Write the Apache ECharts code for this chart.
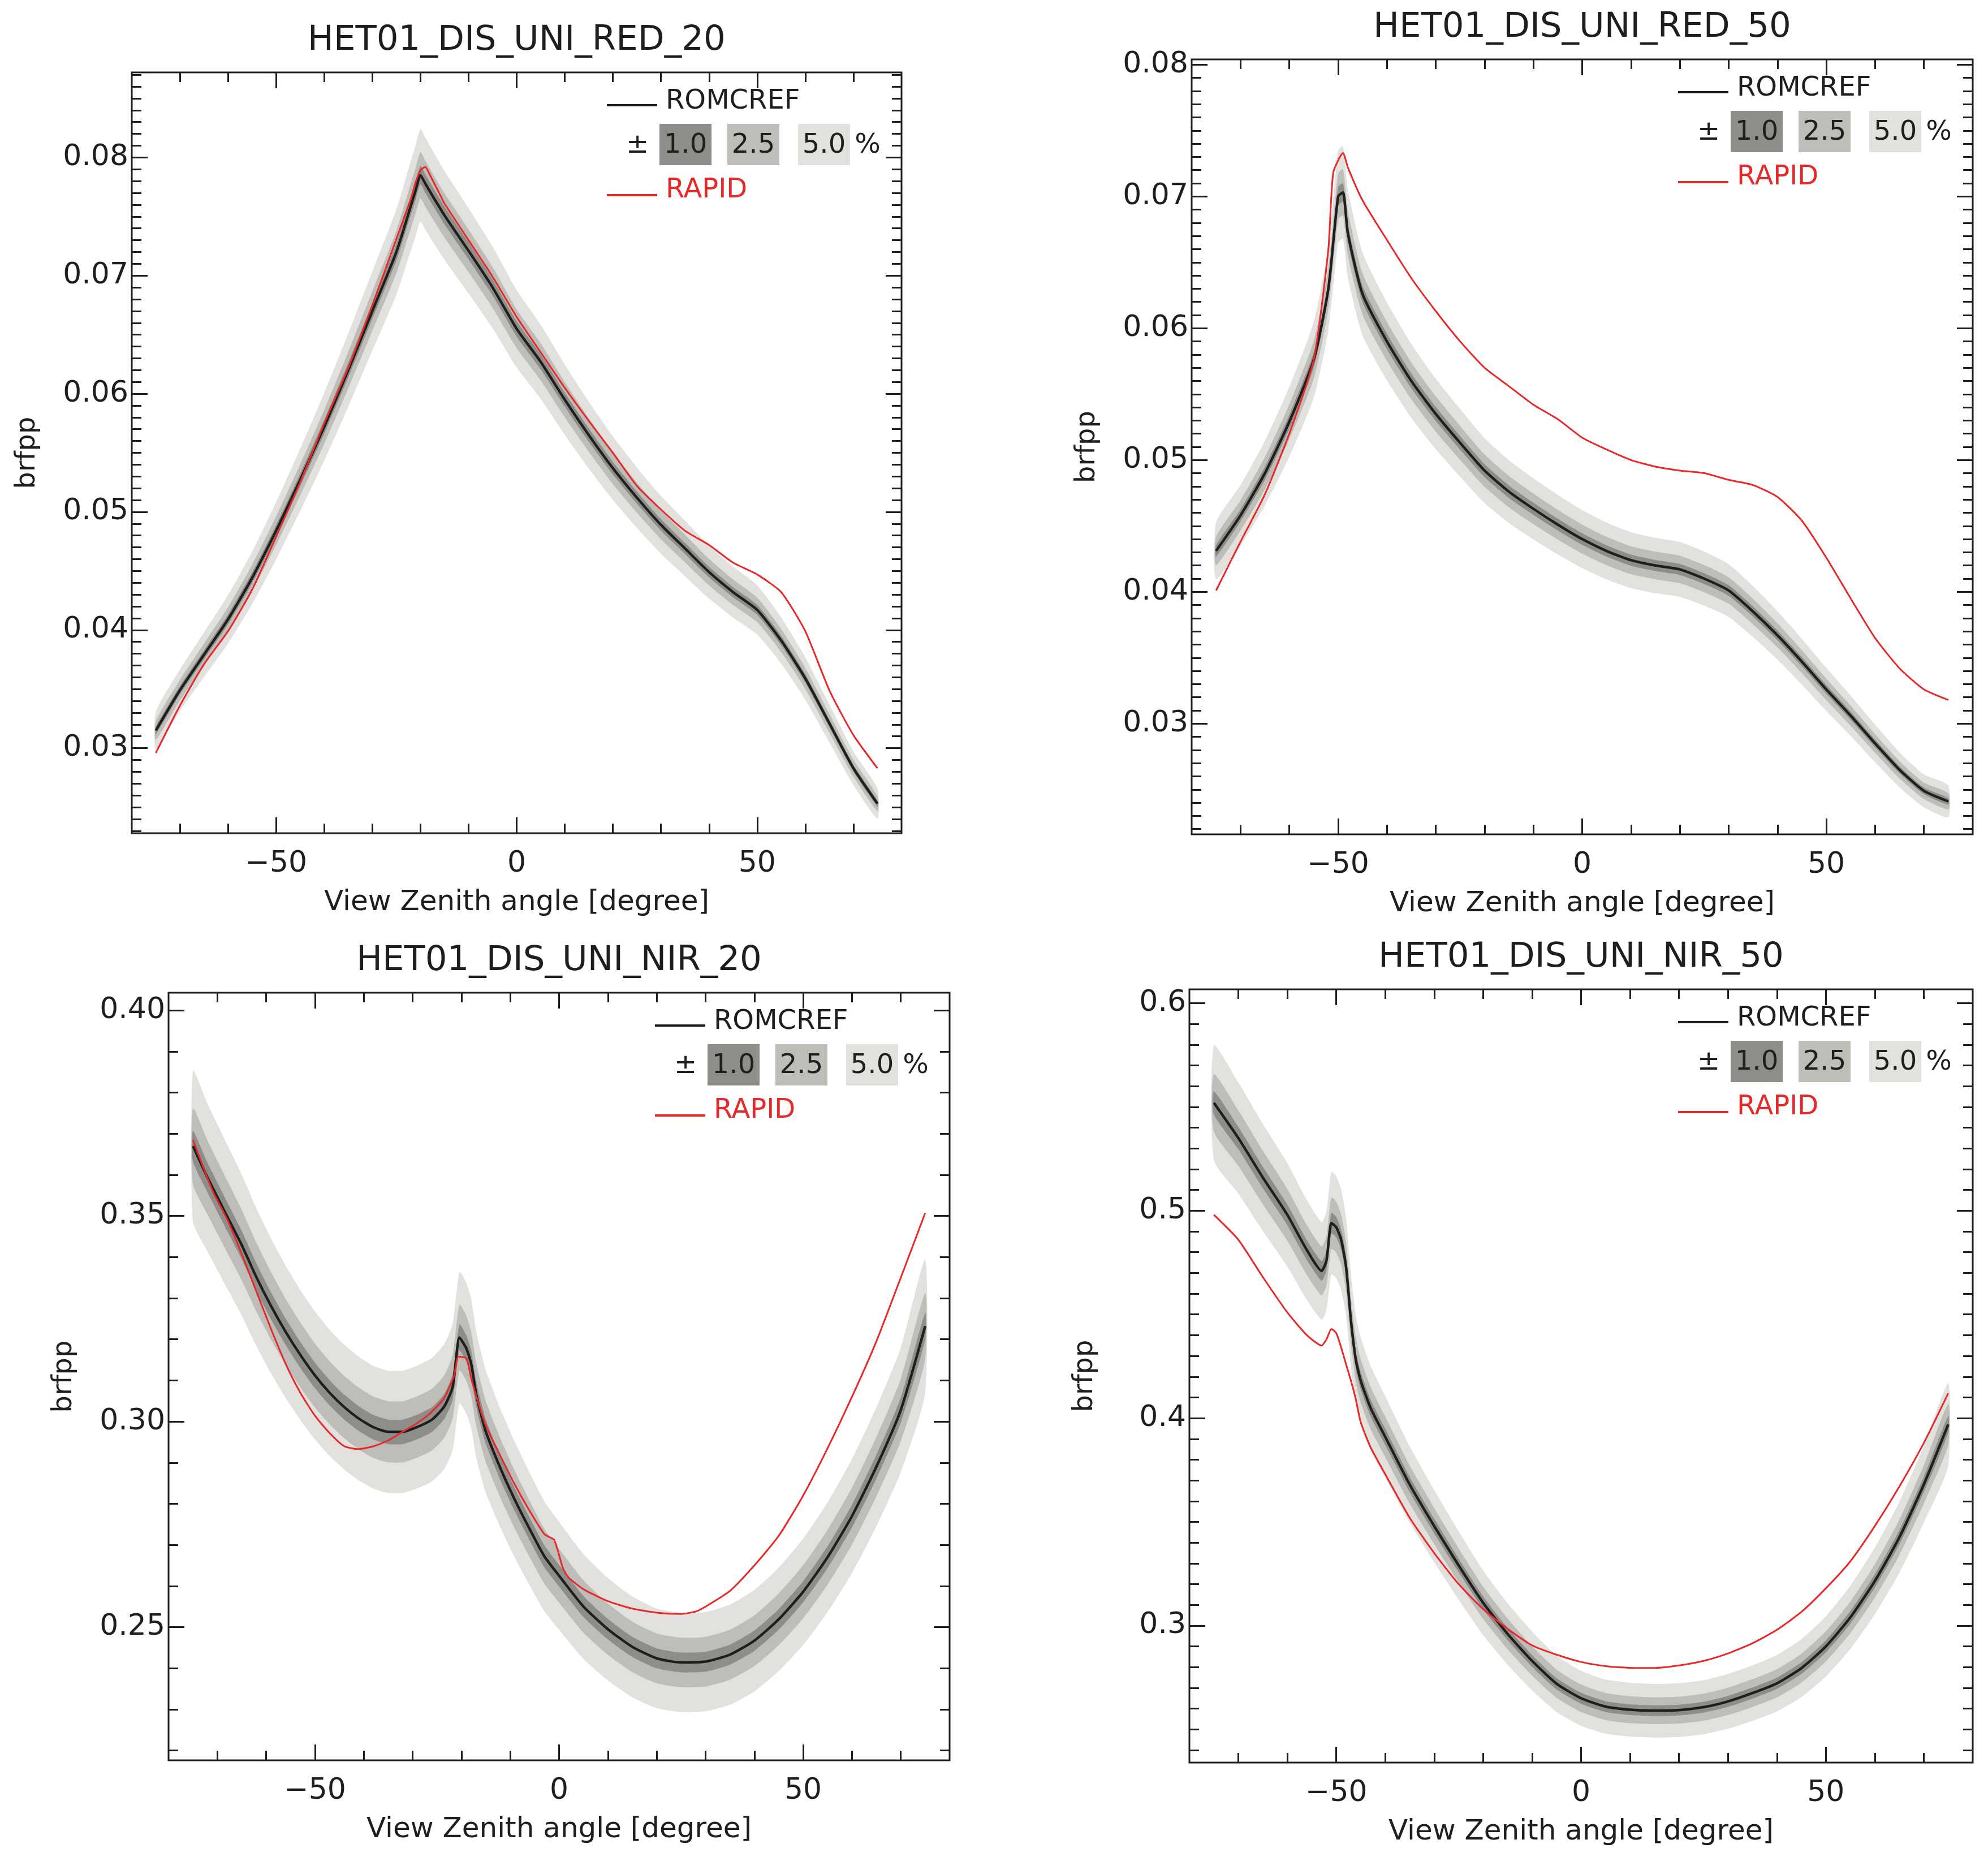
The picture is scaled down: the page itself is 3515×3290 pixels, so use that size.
<!DOCTYPE html>
<html>
<head>
<meta charset="utf-8">
<style>

html, body {
	margin: 0;
	padding: 0;
	background: #fff;
}

#chartElem {
	width: 3515px;
	height: 3290px;
}

</style>
</head>
<body>

<div id="chartElem"></div>

<script src="https://cdn.jsdelivr.net/npm/echarts@6/dist/echarts.min.js"></script>

<script>

// ---- data ----

let panelTitles = ["HET01_DIS_UNI_RED_20", "HET01_DIS_UNI_RED_50", "HET01_DIS_UNI_NIR_20", "HET01_DIS_UNI_NIR_50"];

let xTickValues = [-50, 0, 50];
let xTickLabels = ["\u221250", "0", "50"];
let xRange = [-80, 80];

let yTickLabels1 = ["0.03", "0.04", "0.05", "0.06", "0.07", "0.08"];
let yTickLabels2 = ["0.03", "0.04", "0.05", "0.06", "0.07", "0.08"];
let yTickLabels3 = ["0.25", "0.30", "0.35", "0.40"];
let yTickLabels4 = ["0.3", "0.4", "0.5", "0.6"];

let yRange1 = [0.0228, 0.0872];
let yRange2 = [0.0216, 0.0804];
let yRange3 = [0.2176, 0.4043];
let yRange4 = [0.234, 0.6067];

let yMinorSteps = [0.001, 0.001, 0.01, 0.01];

let bandPercents = [5.0, 2.5, 1.0];

// RED, sun zenith 20
let romcAngles1 = [-75,-70,-65,-60,-55,-50,-45,-40,-35,-30,-25,-22,-21,-20,-19,-18,-15,-10,-5,0,5,10,15,20,25,30,35,40,45,50,55,60,65,70,75];
let romc1 = [0.0315,0.0349,0.0379,0.0409,0.0444,0.0484,0.0527,0.0572,0.0620,0.0670,0.0720,0.0759,0.0772,0.0785,0.0778,0.0771,0.0751,0.0721,0.0690,0.0655,0.0627,0.0595,0.0565,0.0537,0.0512,0.0489,0.0469,0.0449,0.0432,0.0417,0.0391,0.0359,0.0321,0.0283,0.0253];
let rapidAngles1 = [-75,-70,-65,-60,-55,-50,-45,-40,-35,-30,-25,-22,-21,-20,-19,-18,-16,-15,-10,-5,0,5,10,15,20,25,30,35,40,45,50,55,60,65,70,75];
let rapid1 = [0.0296,0.0336,0.0371,0.0399,0.0434,0.0479,0.0525,0.0575,0.0622,0.0675,0.0731,0.0765,0.0779,0.0789,0.0792,0.0785,0.0769,0.0761,0.0730,0.0699,0.0665,0.0635,0.0605,0.0577,0.0550,0.0522,0.0502,0.0484,0.0472,0.0457,0.0447,0.0432,0.0399,0.0349,0.0311,0.0283];

// RED, sun zenith 50
let romcAngles2 = [-75,-70,-65,-60,-55,-52,-50,-49,-48,-45,-40,-35,-30,-25,-20,-15,-10,-5,0,5,10,15,20,25,30,35,40,45,50,55,60,65,70,75];
let romc2 = [0.0431,0.0458,0.0490,0.0529,0.0576,0.0630,0.0700,0.0703,0.0672,0.0626,0.0590,0.0560,0.0535,0.0513,0.0492,0.0476,0.0463,0.0451,0.0440,0.0431,0.0424,0.0420,0.0417,0.0410,0.0401,0.0385,0.0367,0.0347,0.0326,0.0306,0.0285,0.0265,0.0249,0.0241];
let rapidAngles2 = [-75,-70,-65,-60,-55,-52,-51,-49,-48,-45,-40,-35,-30,-25,-20,-15,-10,-5,0,5,10,15,20,25,30,35,40,45,50,55,60,65,70,75];
let rapid2 = [0.0401,0.0438,0.0474,0.0520,0.0576,0.0660,0.0718,0.0733,0.0722,0.0697,0.0667,0.0638,0.0613,0.0590,0.0570,0.0556,0.0542,0.0531,0.0517,0.0508,0.0500,0.0495,0.0492,0.0490,0.0485,0.0481,0.0472,0.0454,0.0426,0.0395,0.0365,0.0342,0.0326,0.0318];

// NIR, sun zenith 20
let romcAngles3 = [-75,-72,-68,-65,-62,-59,-56,-53,-50,-47,-44,-41,-38,-35,-32,-29,-26,-23.5,-21.8,-20.4,-19,-18,-17,-16,-15,-12,-9,-6,-3,0,5,10,15,20,25,30,35,40,45,50,55,60,65,70,75];
let romc3 = [0.3670,0.3593,0.3499,0.3429,0.3351,0.3281,0.3218,0.3162,0.3112,0.3070,0.3035,0.3007,0.2986,0.2975,0.2975,0.2987,0.3005,0.3037,0.3084,0.3204,0.3178,0.3140,0.3068,0.3018,0.2975,0.2886,0.2808,0.2738,0.2672,0.2625,0.2550,0.2495,0.2452,0.2424,0.2414,0.2416,0.2433,0.2467,0.2519,0.2586,0.2670,0.2770,0.2890,0.3028,0.3232];
let rapidAngles3 = [-75,-71,-68,-65,-62,-59,-56,-53,-50,-47,-44,-41,-38,-35,-32.5,-29.5,-26.6,-23.6,-21.5,-20.6,-19,-18,-17,-16,-15,-12,-9,-6,-3,-1,0.8,2,5,10,15,20,25,28,30,35,40,45,50,55,60,65,70,75];
let rapid3 = [0.3685,0.3562,0.3492,0.3407,0.3316,0.3225,0.3140,0.3070,0.3014,0.2972,0.2940,0.2933,0.2940,0.2954,0.2972,0.2993,0.3018,0.3056,0.3112,0.3158,0.3154,0.3105,0.3063,0.3025,0.2990,0.2916,0.2845,0.2782,0.2726,0.2712,0.2643,0.2620,0.2592,0.2563,0.2545,0.2535,0.2532,0.2538,0.2550,0.2588,0.2650,0.2722,0.2820,0.2935,0.3060,0.3195,0.3350,0.3507];

// NIR, sun zenith 50
let romcAngles4 = [-75,-70,-65,-60,-56,-53,-52,-51,-50,-49,-48,-47,-46,-45,-43,-40,-35,-30,-25,-20,-15,-10,-5,0,5,10,15,20,25,30,35,40,45,50,55,60,65,70,75];
let romc4 = [0.552,0.535,0.516,0.498,0.481,0.471,0.476,0.494,0.492,0.486,0.473,0.447,0.428,0.418,0.405,0.391,0.368,0.348,0.329,0.311,0.296,0.283,0.272,0.265,0.261,0.2595,0.259,0.2593,0.2607,0.2635,0.2675,0.2722,0.2795,0.2900,0.3040,0.3215,0.3425,0.3680,0.3970];
let rapidAngles4 = [-75,-70,-65,-60,-56,-53,-52,-51,-50,-49,-48,-47,-46,-45,-43,-40,-35,-30,-25,-20,-15,-10,-5,0,5,10,15,20,25,30,35,40,45,50,55,60,65,70,75];
let rapid4 = [0.498,0.486,0.468,0.451,0.440,0.435,0.438,0.443,0.441,0.434,0.426,0.418,0.409,0.398,0.386,0.373,0.352,0.335,0.320,0.308,0.2985,0.2905,0.286,0.2825,0.2805,0.2797,0.2796,0.2808,0.2830,0.2866,0.2915,0.298,0.3066,0.318,0.331,0.348,0.367,0.388,0.412];

// ---- layout and style ----

let frames = [
	{left: 233, top: 128, width: 1361, height: 1345},
	{left: 2107, top: 105, width: 1381, height: 1370},
	{left: 298, top: 1755, width: 1381, height: 1357},
	{left: 2103, top: 1749, width: 1385, height: 1367}
];

let ink = "#1e1e1e",
	red = "#e62a2a",
	bandColors = {"5": "#e2e1de", "2.5": "#bfbdb8", "1": "#8e8d89"},
	fontFamily = "DejaVu Sans, Verdana, sans-serif",
	majorTickLen = 28,
	minorTickLen = 17,
	smooth = 0.2;

let panels = [
	{romcAngles: romcAngles1, romc: romc1, rapidAngles: rapidAngles1, rapid: rapid1, yLabels: yTickLabels1, yRange: yRange1},
	{romcAngles: romcAngles2, romc: romc2, rapidAngles: rapidAngles2, rapid: rapid2, yLabels: yTickLabels2, yRange: yRange2},
	{romcAngles: romcAngles3, romc: romc3, rapidAngles: rapidAngles3, rapid: rapid3, yLabels: yTickLabels3, yRange: yRange3},
	{romcAngles: romcAngles4, romc: romc4, rapidAngles: rapidAngles4, rapid: rapid4, yLabels: yTickLabels4, yRange: yRange4}
];


let chart = echarts.init(document.getElementById("chartElem"), null, {renderer: "canvas"});

chart.setOption(buildOption());


function buildOption() {
	let grids = [], xAxes = [], yAxes = [], series = [], graphics = [];
	
	let xMinor = [];
	for (let v = xRange[0] + 10; v < xRange[1]; v += 10) xMinor.push(v);
	
	panels.forEach((p, i) => {
		let f = frames[i],
			yMajor = p.yLabels.map(parseFloat),
			step = yMinorSteps[i],
			yMinor = [];
		
		for (let k = Math.ceil(p.yRange[0] / step); k * step <= p.yRange[1]; k++) {
			yMinor.push(Math.round(k * step * 10000) / 10000);
		}
		
		grids.push({
			left: f.left, top: f.top, width: f.width, height: f.height,
			show: true, borderColor: ink, borderWidth: 3, backgroundColor: "transparent"
		});
		
		xAxes.push(
			makeXAxis(i, "bottom", xTickValues, majorTickLen, true),
			makeXAxis(i, "bottom", xMinor, minorTickLen, false),
			makeXAxis(i, "top", xTickValues, majorTickLen, false),
			makeXAxis(i, "top", xMinor, minorTickLen, false)
		);
		
		yAxes.push(
			makeYAxis(i, "left", yMajor, majorTickLen, p),
			makeYAxis(i, "left", yMinor, minorTickLen, null),
			makeYAxis(i, "right", yMajor, majorTickLen, null),
			makeYAxis(i, "right", yMinor, minorTickLen, null)
		);
		
		// uncertainty envelopes: +-pct % around ROMCREF
		bandPercents.forEach(pct => {
			let rows = p.romcAngles.map((a, k) => [a, p.romc[k] * (1 - pct / 100), p.romc[k] * (1 + pct / 100)]);
			
			series.push({
				type: "custom", xAxisIndex: i * 4, yAxisIndex: i * 4,
				silent: true, clip: true,
				data: rows,
				encode: {x: 0, y: [1, 2]},
				renderItem: (params, api) => {
					if (params.dataIndex !== 0) return null;
					let upper = rows.map(r => api.coord([r[0], r[2]])),
						lower = rows.map(r => api.coord([r[0], r[1]])).reverse();
					return {
						type: "polygon",
						shape: {points: upper.concat(lower), smooth: smooth},
						style: {fill: bandColors[String(pct)]}
					};
				}
			});
		});
		
		series.push({
			name: "ROMCREF", type: "line", xAxisIndex: i * 4, yAxisIndex: i * 4,
			data: p.romcAngles.map((a, k) => [a, p.romc[k]]),
			symbol: "none", smooth: smooth, silent: true,
			lineStyle: {color: ink, width: 4.5}
		}, {
			name: "RAPID", type: "line", xAxisIndex: i * 4, yAxisIndex: i * 4,
			data: p.rapidAngles.map((a, k) => [a, p.rapid[k]]),
			symbol: "none", smooth: smooth, silent: true,
			lineStyle: {color: red, width: 3}
		});
		
		graphics.push({
			type: "text", z: 100,
			style: {
				text: panelTitles[i], x: f.left + f.width / 2, y: f.top - 56,
				align: "center", verticalAlign: "middle",
				font: "61px " + fontFamily, fill: ink
			}
		});
		
		graphics.push(...legendFor(f.left + f.width, f.top));
	});
	
	return {
		backgroundColor: "#fff",
		animation: false,
		grid: grids,
		xAxis: xAxes,
		yAxis: yAxes,
		series: series,
		graphic: graphics
	};
}


function makeXAxis(gridIndex, position, ticks, len, withLabels) {
	return {
		type: "value", gridIndex: gridIndex, position: position,
		min: xRange[0], max: xRange[1],
		axisLine: {show: false, onZero: false},
		splitLine: {show: false},
		axisTick: {show: true, inside: true, length: len, customValues: ticks, lineStyle: {color: ink, width: 3}},
		axisLabel: withLabels ? {
			show: true, customValues: xTickValues,
			formatter: v => xTickLabels[xTickValues.indexOf(v)] || "",
			fontSize: 52, fontFamily: fontFamily, color: ink, margin: 28
		} : {show: false},
		name: withLabels ? "View Zenith angle [degree]" : "",
		nameLocation: "middle", nameGap: 98,
		nameTextStyle: {fontSize: 50, fontFamily: fontFamily, color: ink}
	};
}

function makeYAxis(gridIndex, position, ticks, len, panel) {
	return {
		type: "value", gridIndex: gridIndex, position: position,
		min: panels[gridIndex].yRange[0], max: panels[gridIndex].yRange[1],
		axisLine: {show: false, onZero: false},
		splitLine: {show: false},
		axisTick: {show: true, inside: true, length: len, customValues: ticks, lineStyle: {color: ink, width: 3}},
		axisLabel: panel ? {
			show: true, customValues: panel.yLabels.map(parseFloat),
			formatter: v => {
				let idx = panel.yLabels.findIndex(s => Math.abs(parseFloat(s) - v) < 1e-9);
				return idx >= 0 ? panel.yLabels[idx] : "";
			},
			fontSize: 52, fontFamily: fontFamily, color: ink, margin: 6
		} : {show: false},
		name: panel ? "brfpp" : "",
		nameLocation: "middle", nameGap: 160, nameRotate: 90,
		nameTextStyle: {fontSize: 48, fontFamily: fontFamily, color: ink}
	};
}

function legendFor(R, T) {
	let font = "48px " + fontFamily,
		items = [];
	
	items.push(
		{type: "line", z: 100, shape: {x1: R - 521, y1: T + 58, x2: R - 432, y2: T + 58}, style: {stroke: ink, lineWidth: 4}},
		{type: "text", z: 100, style: {text: "ROMCREF", x: R - 417, y: T + 52, align: "left", verticalAlign: "middle", font: font, fill: ink}},
		{type: "text", z: 100, style: {text: "\u00b1", x: R - 467, y: T + 130, align: "center", verticalAlign: "middle", font: font, fill: ink}}
	);
	
	let boxes = [[R - 428, "1.0", bandColors["1"]], [R - 308, "2.5", bandColors["2.5"]], [R - 183, "5.0", bandColors["5"]]];
	
	boxes.forEach(([x, label, color]) => {
		items.push(
			{type: "rect", z: 100, shape: {x: x, y: T + 91, width: 92, height: 73}, style: {fill: color}},
			{type: "text", z: 101, style: {text: label, x: x + 46, y: T + 130, align: "center", verticalAlign: "middle", font: font, fill: ink}}
		);
	});
	
	items.push(
		{type: "text", z: 100, style: {text: "%", x: R - 60, y: T + 130, align: "center", verticalAlign: "middle", font: font, fill: ink}},
		{type: "line", z: 100, shape: {x1: R - 521, y1: T + 217, x2: R - 432, y2: T + 217}, style: {stroke: red, lineWidth: 4}},
		{type: "text", z: 100, style: {text: "RAPID", x: R - 417, y: T + 209, align: "left", verticalAlign: "middle", font: font, fill: red}}
	);
	
	return items;
}

</script>

</body>
</html>
